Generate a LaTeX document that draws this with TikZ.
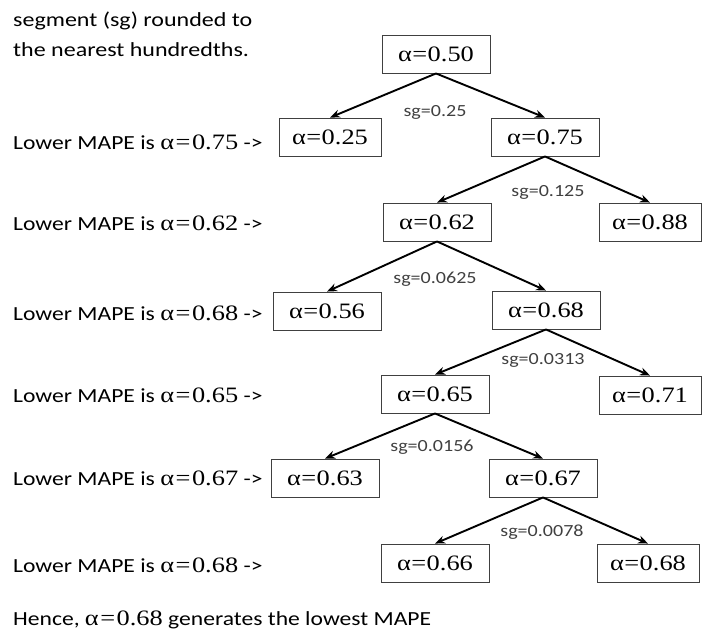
\documentclass[tikz,border=0pt]{standalone}
\usepackage{fontspec}
\setmainfont[FakeStretch=1.18]{Carlito}
\newfontfamily\headfont[FakeStretch=1.2]{Carlito}
\newfontfamily\tnr[FakeStretch=1.2]{Liberation Serif}
\usetikzlibrary{arrows.meta}
\newcommand{\al}[1]{{\tnr α\kern0.5pt=\kern0.5pt#1}}
\newcommand{\lal}[1]{{\fontsize{22}{24}\selectfont\tnr α\kern1.5pt=\kern1.5pt#1}}
\tikzset{
  abox/.style={draw=black!75, line width=0.9pt, minimum width=108, minimum height=38,
    inner sep=0pt, font=\fontsize{22}{24}\selectfont\tnr},
  rbox/.style={abox, minimum width=102},
  lbl/.style={anchor=west, inner sep=0pt, font=\fontsize{20}{22}\selectfont},
  head/.style={anchor=west, inner sep=0pt, font=\fontsize{20}{22}\selectfont\headfont},
  sgl/.style={inner sep=0pt, font=\fontsize{17}{18}\selectfont, text=black!75},
  link/.style={-{Stealth[length=10pt,width=8pt]}, line width=1.9pt}
}
\begin{document}
\begin{tikzpicture}[x=1pt,y=-1pt]
\useasboundingbox (0,0) rectangle (702,632);

% heading
\node[head] (h1) at (13,21) {segment (sg) rounded to};
\node[head] (h2) at (13,50) {the nearest hundredths.};

% tree of alpha values
\node[abox] (a50) at (436,54)  {\al{0.50}};
\node[abox, minimum width=102] (a25) at (330,137) {\al{0.25}};
\node[abox] (a75) at (545,137) {\al{0.75}};
\node[abox] (a62) at (437,222) {\al{0.62}};
\node[rbox] (a88) at (650,222) {\al{0.88}};
\node[abox] (a56) at (327,311) {\al{0.56}};
\node[abox] (a68) at (546,310) {\al{0.68}};
\node[abox] (a65) at (435,394) {\al{0.65}};
\node[rbox] (a71) at (650,395) {\al{0.71}};
\node[abox] (a63) at (325,478) {\al{0.63}};
\node[abox] (a67) at (543,478) {\al{0.67}};
\node[abox] (a66) at (435,563) {\al{0.66}};
\node[rbox] (a68b) at (648,563) {\al{0.68}};

% branches
\draw[link] (a50.south) -- (a25.north);
\draw[link] (a50.south) -- (a75.north);
\draw[link] (a75.south) -- (a62.north);
\draw[link] (a75.south) -- (a88.north);
\draw[link] (a62.south) -- (a56.north);
\draw[link] (a62.south) -- (a68.north);
\draw[link] (a68.south) -- (a65.north);
\draw[link] (a68.south) -- (a71.north);
\draw[link] (a65.south) -- (a63.north);
\draw[link] (a65.south) -- (a67.north);
\draw[link] (a67.south) -- (a66.north);
\draw[link] (a67.south) -- (a68b.north);

% segment sizes
\node[sgl] (s1) at (435,112) {sg=0.25};
\node[sgl] (s2) at (548,192) {sg=0.125};
\node[sgl] (s3) at (435,279) {sg=0.0625};
\node[sgl] (s4) at (543,360) {sg=0.0313};
\node[sgl] (s5) at (432,447) {sg=0.0156};
\node[sgl] (s6) at (542,532) {sg=0.0078};

% comparison notes
\node[lbl] (l1) at (13,142) {Lower MAPE is \lal{0.75} ->};
\node[lbl] (l2) at (13,223) {Lower MAPE is \lal{0.62} ->};
\node[lbl] (l3) at (13,313) {Lower MAPE is \lal{0.68} ->};
\node[lbl] (l4) at (13,395) {Lower MAPE is \lal{0.65} ->};
\node[lbl] (l5) at (13,478) {Lower MAPE is \lal{0.67} ->};
\node[lbl] (l6) at (13,565) {Lower MAPE is \lal{0.68} ->};

% conclusion
\node[lbl] (c) at (13,620) {Hence, \lal{0.68} generates the lowest MAPE};
\end{tikzpicture}
\end{document}
